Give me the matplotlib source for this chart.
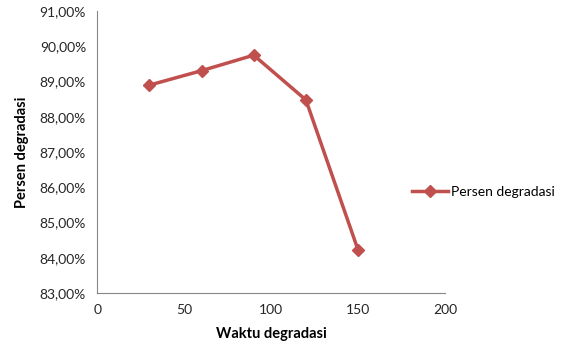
import matplotlib
matplotlib.use('Agg')
import matplotlib.pyplot as plt
from matplotlib.ticker import FuncFormatter

waktu = [30, 60, 90, 120, 150]
persen = [88.90, 89.31, 89.75, 88.48, 84.22]

plt.rcParams['font.family'] = ['Lato', 'DejaVu Sans']

fig = plt.figure(figsize=(5.75, 3.48), dpi=100)
ax = fig.add_axes([0.169, 0.158, 0.605, 0.81])

ax.plot(waktu, persen, color='#C0504D', linewidth=2.5, marker='D', markersize=6,
        label='Persen degradasi')

ax.set_xlim(0, 200)
ax.set_ylim(83, 91)
ax.set_xticks([0, 50, 100, 150, 200])
ax.set_yticks(range(83, 92))
ax.yaxis.set_major_formatter(FuncFormatter(lambda v, p: ('%.2f%%' % v).replace('.', ',')))

for s in ['top', 'right']:
    ax.spines[s].set_visible(False)
for s in ['left', 'bottom']:
    ax.spines[s].set_color('#868686')
ax.tick_params(length=0, labelsize=10, colors='#262626', pad=8)

ax.set_xlabel('Waktu degradasi', fontsize=10.5, fontweight='bold', labelpad=8)
ax.set_ylabel('Persen degradasi', fontsize=10.5, fontweight='bold', labelpad=8)

ax.legend(loc='center left', bbox_to_anchor=(0.87, 0.36), frameon=False,
          fontsize=10, handlelength=2.6, handletextpad=0.2)

fig.savefig('out.png', dpi=100)
